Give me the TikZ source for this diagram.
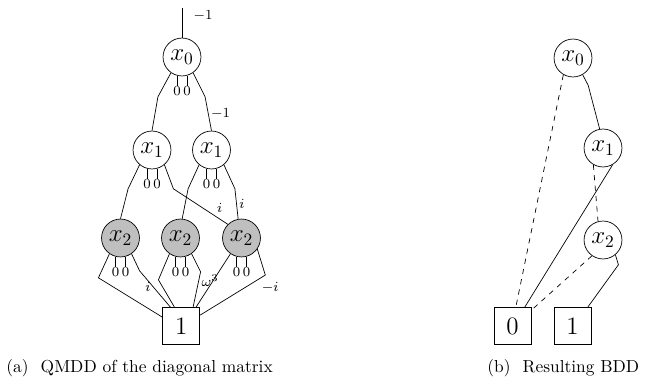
\documentclass[tikz,border=0pt]{standalone}
\tikzset{
  vertice/.style={circle, draw, minimum size=21.8pt, inner sep=0pt, font=\Large},
  vertcinza/.style={vertice, fill=gray!50},
  folha/.style={rectangle, draw, minimum size=21.3pt, inner sep=0pt, font=\Large},
  peso/.style={font=\footnotesize, inner sep=1.5pt},
  zeros/.style={font=\footnotesize, inner sep=0.5pt, below}
}
\begin{document}
\begin{tikzpicture}[x=0.575pt, y=0.575pt]
  \useasboundingbox (0,0) rectangle (671,-390);
  % QMDD
  \node[vertice] (qx0) at (182,-57) {$x_0$};
  \node[vertice] (qx1a) at (152,-150) {$x_1$};
  \node[vertice] (qx1b) at (211.5,-150) {$x_1$};
  \node[vertcinza] (qx2a) at (120.5,-238) {$x_2$};
  \node[vertcinza] (qx2b) at (180.5,-238) {$x_2$};
  \node[vertcinza] (qx2c) at (241.5,-238) {$x_2$};
  \node[folha] (qum) at (181.3,-326) {$1$};
  \coordinate (raiz) at (182,-8);
  \draw (raiz) -- (qx0.north) node[peso, pos=0, anchor=north west, xshift=5pt]{$-1$}; % aresta de entrada
  % arestas de zero
  \foreach \n in {qx0,qx1a,qx1b,qx2a,qx2b,qx2c}{
    \draw (\n.255) -- ++(0,-10) node[zeros]{$0$};
    \draw (\n.285) -- ++(0,-10) node[zeros]{$0$};
  }
  \draw (qx0.235) -- ++(-13,-24) -- (qx1a.north);
  \draw (qx0.-55) -- ++(12,-24) -- (qx1b.north) node[peso, pos=0.5, right]{$-1$};
  \draw (qx1a.230) -- ++(-11.5,-24) -- (qx2a.north);
  \draw (qx1a.-50) -- ++(9,-24) -- (qx2c.135) node[peso, pos=0.75, above right]{$i$};
  \draw (qx1b.230) -- ++(-11,-24) -- (qx2b.85);
  \draw (qx1b.-50) -- ++(11,-24) -- (qx2c.100) node[peso, pos=0.5, right]{$i$};
  \draw (qx2a.235) -- ++(-11,-24) -- (qum.155);
  \draw (qx2a.-55) -- ++(8,-17) -- (qum.120) node[peso, pos=0.45, left]{$i$};
  \draw (qx2b.235) -- ++(-11,-26) -- (qum.110);
  \draw (qx2b.-55) -- ++(9,-18) -- (qum.58) node[peso, pos=0.25, right]{$\omega^3$};
  \draw (qx2c.235) -- (qum.52);
  \draw (qx2c.-35) -- ++(8,-26) -- (qum.30) node[peso, pos=0.1, below right]{$-i$};
  % BDD resultante
  \node[vertice] (bx0) at (573,-58) {$x_0$};
  \node[vertice] (bx1) at (603,-148) {$x_1$};
  \node[vertice] (bx2) at (603,-240) {$x_2$};
  \node[folha] (bzero) at (512.5,-326) {$0$};
  \node[folha] (bum) at (572.5,-326) {$1$};
  \draw[dashed] (bx0.240) -- (bzero.80);
  \draw (bx0.-60) -- ++(5.5,-10.5) -- (bx1.100);
  \draw[dashed] (bx1.240) -- (bx2.105);
  \draw (bx1.-60) -- (bzero.57);
  \draw[dashed] (bx2.235) -- (bzero.40);
  \draw (bx2.-50) -- ++(3,-10) -- (bum.51);
  % legendas
  \node[anchor=base west, inner sep=0pt] (lega) at (6,-372) {(a)\hspace{7pt}QMDD of the diagonal matrix};
  \node[anchor=base west, inner sep=0pt] (legb) at (487,-372) {(b)\hspace{7pt}Resulting BDD};
\end{tikzpicture}
\end{document}
